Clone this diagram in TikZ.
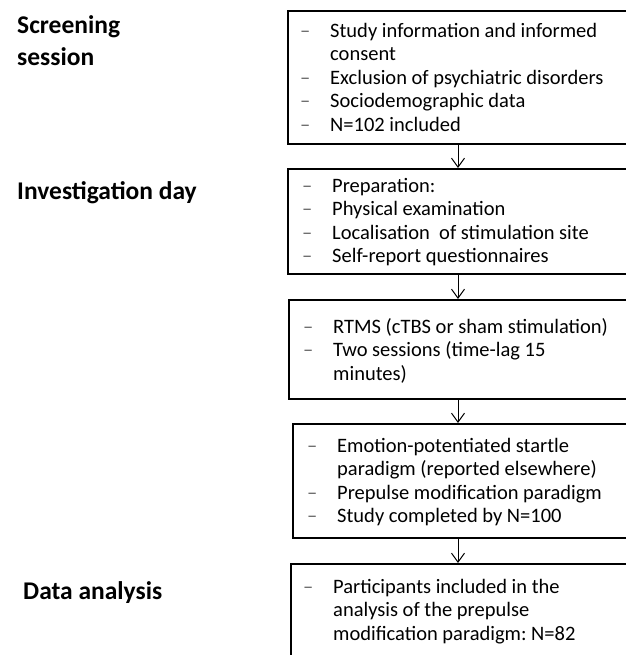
\documentclass[tikz,border=0pt]{standalone}
\usepackage{fontspec}
\setmainfont{Carlito}
\usepackage{xcolor}
\usepackage{tikz}
\usetikzlibrary{arrows.meta, positioning}
\frenchspacing

\newcommand{\itm}[1]{\strut\makebox[30pt][l]{\textcolor{black!60}{--}}#1}
\newcommand{\cnt}[1]{\strut\hspace*{30pt}#1}

\begin{document}
\begin{tikzpicture}[
    x=1pt, y=-1pt,
    stage/.style={rectangle, draw, line width=2pt, anchor=north west, minimum width=380pt, inner sep=0pt},
    items/.style={anchor=north west, align=left, inner sep=0pt, font=\fontsize{20.5}{23.5}\selectfont},
    phase/.style={anchor=north west, align=left, inner sep=0pt, font=\fontsize{25.5}{32}\selectfont\bfseries},
    arrow/.style={-{Straight Barb[length=9pt, width=13pt]}, line width=1pt}
]
\useasboundingbox (0,0) rectangle (625,655);

% Phases
\node[phase] (screenlbl) at (17,10.6) {\strut Screening\\\strut session};
\node[phase] (investlbl) at (17,176.6) {\strut Investigation day};
\node[phase] (analysislbl) at (23,576.6) {\strut Data analysis};

% Screening
\node[stage, minimum height=133pt] (screen) at (287,10) {};
\node[items] (screentxt) at ([xshift=13pt, yshift=-10.5pt]screen.north west)
    {\itm{Study information and informed}\\ \cnt{consent}\\
     \itm{Exclusion of psychiatric disorders}\\ \itm{Sociodemographic data}\\
     \itm{N=102 included}};

% Investigation day
\node[stage, minimum height=105pt] (invest) at (287,168) {};
\node[items] (investtxt) at ([xshift=15pt, yshift=-7.5pt]invest.north west)
    {\itm{Preparation:}\\ \itm{Physical examination}\\
     \itm{Localisation\ \ of stimulation site}\\ \itm{Self-report questionnaires}};

\node[stage, minimum height=99pt] (rtms) at (288,299) {};
\node[items] (rtmstxt) at ([xshift=15pt, yshift=-17.5pt]rtms.north west)
    {\itm{RTMS (cTBS or sham stimulation)}\\ \itm{Two sessions (time-lag 15}\\
     \cnt{minutes)}};

\node[stage, minimum height=114pt] (startle) at (292,423) {};
\node[items] (startletxt) at ([xshift=15pt, yshift=-12.5pt]startle.north west)
    {\itm{Emotion-potentiated startle}\\ \cnt{paradigm (reported elsewhere)}\\
     \itm{Prepulse modification paradigm}\\ \itm{Study completed by N=100}};

% Data analysis
\node[stage, minimum height=110pt] (analysis) at (290,563) {};
\node[items] (analysistxt) at ([xshift=13pt, yshift=-13.5pt]analysis.north west)
    {\itm{Participants included in the}\\ \cnt{analysis of the prepulse}\\
     \cnt{modification paradigm: N=82}};

% Arrows
\draw[arrow] ([xshift=171pt]screen.south west) -- ([xshift=171pt]screen.south west |- invest.north);
\draw[arrow] ([xshift=171pt]invest.south west) -- ([xshift=171pt]invest.south west |- rtms.north);
\draw[arrow] ([xshift=171pt]invest.south west |- rtms.south) -- ([xshift=171pt]invest.south west |- startle.north);
\draw[arrow] ([xshift=171pt]invest.south west |- startle.south) -- ([xshift=171pt]invest.south west |- analysis.north);

\end{tikzpicture}
\end{document}
